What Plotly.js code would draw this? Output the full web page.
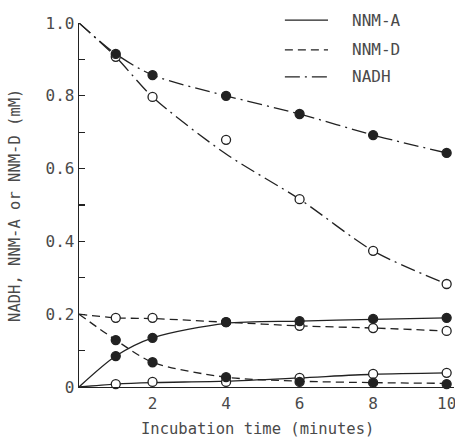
<!DOCTYPE html>
<html>
<head>
<meta charset="utf-8">
<script src="https://cdn.plot.ly/plotly-3.0.1.min.js"></script>
<style>html,body{margin:0;padding:0;background:#fff;}#chart{width:455px;height:438px;}</style>
</head>
<body>
<div id="chart"></div>
<script>
// Incubation time (minutes)
const timePoints = [1, 2, 4, 6, 8, 10];
const curveTimes = [0, 1, 2, 4, 6, 8, 10];

// Measured points (filled = closed circles, open = open circles)
const nadhFilled = [0.915, 0.857, 0.800, 0.750, 0.692, 0.643];
const nadhOpen   = [0.907, 0.797, 0.679, 0.516, 0.374, 0.283];
const nnmDOpen   = [0.190, 0.190, 0.178, 0.168, 0.162, 0.154];
const nnmDFilled = [0.129, 0.068, 0.027, 0.014, 0.012, 0.008];
const nnmAFilled = [0.085, 0.135, 0.178, 0.181, 0.187, 0.190];
const nnmAOpen   = [0.008, 0.014, 0.014, 0.025, 0.036, 0.039];

// Drawn (fitted) curves at curveTimes
const nadhFilledCurve = [1.0, 0.915, 0.857, 0.800, 0.750, 0.692, 0.643];
const nadhOpenCurve   = [1.0, 0.907, 0.797, 0.640, 0.516, 0.374, 0.283];
const nnmDOpenCurve   = [0.200, 0.190, 0.188, 0.178, 0.168, 0.162, 0.154];
const nnmDFilledCurve = [0.200, 0.129, 0.068, 0.027, 0.016, 0.012, 0.010];
const nnmAFilledCurve = [0.0, 0.085, 0.135, 0.175, 0.181, 0.186, 0.190];
const nnmAOpenCurve   = [0.0, 0.008, 0.012, 0.016, 0.025, 0.035, 0.039];

const legendNames = ["NNM-A", "NNM-D", "NADH"];
const xTitle = "Incubation time (minutes)";
const yTitle = "NADH, NNM-A or NNM-D (mM)";
const xTickVals = [2, 4, 6, 8, 10];
const yTickVals = [0, 0.1, 0.2, 0.3, 0.4, 0.5, 0.6, 0.7, 0.8, 0.9, 1.0];
const yTickText = ["0", "", "0.2", "", "0.4", "", "0.6", "", "0.8", "", "1.0"];

const INK = "#222";
const TXT = "#4a4a4a";
const FONT = "DejaVu Sans Mono, monospace";
const DASH = {solid: "solid", nnmD: "8px,5px", nadh: "15px,5px,2px,5px"};
const LW = 1.3;

function curve(y, dash) {
  return {x: curveTimes, y: y, mode: "lines", line: {color: INK, width: LW, dash: dash, shape: "spline", smoothing: 0.8},
          showlegend: false, hoverinfo: "skip", cliponaxis: false};
}
function pts(y, filled) {
  return {x: timePoints, y: y, mode: "markers", cliponaxis: false, showlegend: false,
          marker: {size: 9, color: filled ? INK : "#fff", line: {color: INK, width: 1.3}, symbol: "circle"}};
}

const data = [
  curve(nadhFilledCurve, DASH.nadh),
  curve(nadhOpenCurve, DASH.nadh),
  curve(nnmDOpenCurve, DASH.nnmD),
  curve(nnmDFilledCurve, DASH.nnmD),
  curve(nnmAFilledCurve, DASH.solid),
  curve(nnmAOpenCurve, DASH.solid),
  pts(nadhOpen, false),
  pts(nnmDOpen, false),
  pts(nnmAOpen, false),
  pts(nadhFilled, true),
  pts(nnmDFilled, true),
  pts(nnmAFilled, true)
];

// legend drawn as line samples + labels (paper coordinates)
const legY = [1.008, 0.926, 0.852];
const legDash = [DASH.solid, DASH.nnmD, DASH.nadh];
const shapes = legendNames.map((n, i) => ({
  type: "line", xref: "paper", yref: "paper", x0: 0.549, x1: 0.664, y0: legY[i], y1: legY[i],
  line: {color: INK, width: LW, dash: legDash[i]}
}));
const annotations = legendNames.map((n, i) => ({
  xref: "paper", yref: "paper", x: 0.722, y: legY[i], xanchor: "left", yanchor: "middle",
  text: n, showarrow: false, font: {family: FONT, size: 16, color: TXT}
}));
annotations.push({
  xref: "paper", yref: "paper", x: 0.475, y: -0.116, xanchor: "center", yanchor: "middle",
  text: xTitle, showarrow: false, font: {family: FONT, size: 15.5, color: TXT}
});
annotations.push({
  xref: "paper", yref: "paper", x: -0.171, y: 0.5, xanchor: "center", yanchor: "middle", textangle: -90,
  text: yTitle, showarrow: false, font: {family: FONT, size: 15.5, color: TXT}
});

const layout = {
  width: 455, height: 438,
  margin: {l: 79, r: 1, t: 23, b: 51},
  paper_bgcolor: "#fff", plot_bgcolor: "#fff",
  showlegend: false,
  font: {family: FONT, size: 16, color: TXT},
  xaxis: {
    range: [0, 10.2], showgrid: false, zeroline: false, showline: true, linecolor: INK, linewidth: LW,
    tickvals: xTickVals, ticks: "", ticklabelstandoff: 1, ticklabeloverflow: "allow",
    tickfont: {family: FONT, size: 16, color: TXT}
  },
  yaxis: {
    range: [0, 1.0], showgrid: false, zeroline: false, showline: true, linecolor: INK, linewidth: LW,
    tickvals: yTickVals, ticktext: yTickText, ticks: "inside", ticklen: 6, tickwidth: 1.2, tickcolor: INK,
    ticklabelstandoff: 0,
    tickfont: {family: FONT, size: 16, color: TXT}
  },
  shapes: shapes,
  annotations: annotations
};

Plotly.newPlot("chart", data, layout, {displayModeBar: false, staticPlot: true});
</script>
</body>
</html>
